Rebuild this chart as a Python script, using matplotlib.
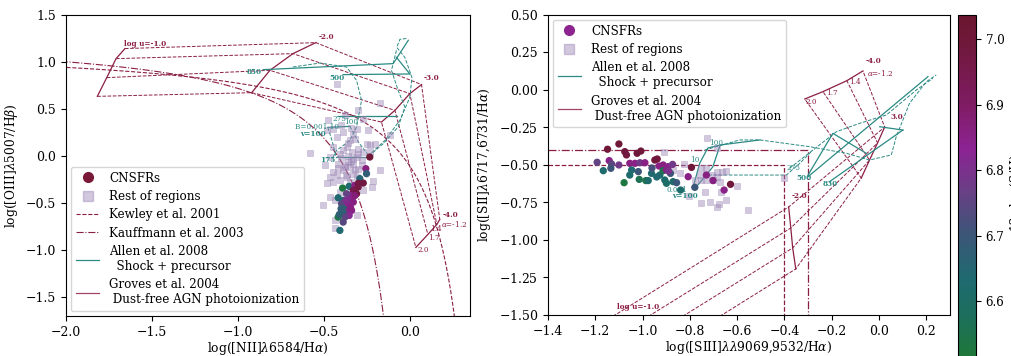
import numpy as np
import matplotlib
matplotlib.use("Agg")
import matplotlib.pyplot as plt
from matplotlib.colors import LinearSegmentedColormap, Normalize
from matplotlib.lines import Line2D

plt.rcParams['font.family'] = ['DejaVu Serif']
plt.rcParams['mathtext.fontset'] = 'dejavuserif'
plt.rcParams['font.size'] = 9

# ---------------- data ----------------
# left panel: CNSFRs (x=log NII/Ha, y=log OIII/Hb, 12+log(S/H))
cn_L_x = [-0.233, -0.256, -0.252, -0.291, -0.271, -0.391, -0.353, -0.320, -0.301, -0.329,
          -0.349, -0.368, -0.310, -0.339, -0.359, -0.388, -0.417, -0.397, -0.329, -0.349,
          -0.378, -0.368, -0.339, -0.388, -0.353, -0.378, -0.417, -0.388, -0.407, -0.300,
          -0.320, -0.360, -0.345, -0.400, -0.410, -0.370]
cn_L_y = [-0.010, -0.134, -0.187, -0.240, -0.287, -0.340, -0.322, -0.312, -0.330, -0.365,
          -0.418, -0.400, -0.400, -0.453, -0.471, -0.471, -0.443, -0.506, -0.489, -0.524,
          -0.560, -0.596, -0.578, -0.596, -0.631, -0.649, -0.649, -0.702, -0.790, -0.290,
          -0.420, -0.500, -0.550, -0.560, -0.620, -0.470]
cn_L_sh = [7.00, 6.86, 6.68, 6.65, 6.98, 6.53, 6.63, 6.85, 6.97, 6.95,
           6.84, 6.76, 6.99, 6.83, 6.82, 6.66, 6.64, 6.74, 6.86, 6.84,
           6.65, 6.83, 6.85, 6.66, 6.82, 6.76, 6.55, 6.74, 6.64, 6.97,
           6.87, 6.84, 6.86, 6.68, 6.67, 6.81]

# left panel: rest of regions
rest_L_x = [-0.422, -0.174, -0.300, -0.271, -0.378, -0.475, -0.446, -0.484, -0.388, -0.310,
            -0.242, -0.233, -0.252, -0.203, -0.116, -0.320, -0.426, -0.349, -0.446, -0.368,
            -0.581, -0.271, -0.339, -0.407, -0.310, -0.465, -0.494, -0.417, -0.359, -0.329,
            -0.281, -0.174, -0.446, -0.388, -0.465, -0.426, -0.329, -0.300, -0.484, -0.446,
            -0.407, -0.213, -0.223, -0.407, -0.465, -0.436, -0.271, -0.504, -0.436, -0.436,
            -0.310, -0.349, -0.368, -0.310, -0.378, -0.233, -0.300, -0.329, -0.400, -0.360,
            -0.330, -0.300, -0.380, -0.350, -0.320, -0.420, -0.390, -0.360, -0.340, -0.400,
            -0.370, -0.340, -0.280]
rest_L_y = [0.770, 0.564, 0.486, 0.397, 0.433, 0.387, 0.291, 0.273, 0.255, 0.291,
            0.273, 0.113, 0.131, 0.131, 0.220, 0.184, 0.202, 0.167, 0.096, 0.096,
            0.032, 0.043, 0.043, 0.025, -0.011, -0.011, -0.099, -0.082, -0.064, -0.082,
            -0.046, -0.152, -0.170, -0.152, -0.223, -0.206, -0.188, -0.135, -0.287, -0.277,
            -0.259, -0.270, -0.330, -0.383, -0.436, -0.472, -0.365, -0.525, -0.684, -0.766,
            -0.631, -0.277, -0.223, -0.223, -0.117, 0.043, 0.078, 0.238, -0.020, 0.000,
            -0.030, 0.020, -0.100, -0.120, -0.150, -0.130, 0.060, 0.140, 0.300, 0.330,
            -0.200, -0.050, -0.100]

# right panel: CNSFRs (x=log SIII/Ha, y=log SII/Ha)
cn_R_x = [-1.100, -1.148, -1.075, -1.068, -1.023, -1.007, -1.192, -1.141, -1.131, -1.166,
          -1.134, -1.078, -1.054, -1.032, -1.011, -0.990, -1.046, -1.054, -1.018, -1.014,
          -0.986, -0.976, -0.962, -0.948, -0.938, -0.930, -0.913, -0.892, -0.873, -0.927,
          -0.906, -0.899, -0.871, -0.856, -0.839, -0.913, -0.899, -0.882, -0.793, -0.779,
          -0.730, -0.702, -0.655, -0.628, -0.807, -1.100, -0.960, -0.940, -0.890]
cn_R_y = [-0.360, -0.395, -0.411, -0.433, -0.422, -0.407, -0.482, -0.471, -0.493, -0.538,
          -0.522, -0.618, -0.489, -0.489, -0.485, -0.485, -0.533, -0.567, -0.544, -0.596,
          -0.604, -0.604, -0.556, -0.467, -0.460, -0.507, -0.500, -0.511, -0.496, -0.567,
          -0.600, -0.622, -0.611, -0.618, -0.667, -0.538, -0.533, -0.556, -0.516, -0.649,
          -0.567, -0.604, -0.667, -0.629, -0.578, -0.500, -0.520, -0.580, -0.540]
cn_R_sh = [7.00, 7.00, 6.99, 6.98, 6.99, 7.00, 6.76, 6.85, 6.75, 6.62,
           6.70, 6.53, 6.86, 6.85, 6.78, 6.85, 6.64, 6.62, 6.70, 6.56,
           6.55, 6.62, 6.64, 6.99, 6.99, 6.85, 6.86, 6.84, 6.78, 6.63,
           6.62, 6.61, 6.62, 6.70, 6.62, 6.55, 6.85, 6.70, 6.99, 6.70,
           6.86, 6.86, 6.85, 6.99, 6.85, 6.78, 6.72, 6.64, 6.80]

# right panel: rest of regions
rest_R_x = [-0.727, -0.685, -0.910, -0.824, -0.751, -0.730, -0.687, -0.666, -0.645, -0.779,
            -0.751, -0.730, -0.701, -0.673, -0.687, -0.804, -0.734, -0.751, -0.715, -0.677,
            -0.685, -0.645, -0.599, -0.554, -0.670, -0.403, -0.758, -0.708, -0.870, -0.842]
rest_R_y = [-0.322, -0.389, -0.416, -0.493, -0.522, -0.522, -0.544, -0.544, -0.538, -0.600,
            -0.600, -0.600, -0.600, -0.611, -0.578, -0.704, -0.682, -0.756, -0.744, -0.760,
            -0.782, -0.733, -0.638, -0.800, -0.678, -0.589, -0.567, -0.567, -0.533, -0.556]

# Groves et al. 2004 grids: rows = log U (-1,-2,-3,-4), columns = alpha (-1.2,-1.4,-1.7,-2.0)
groves_L_x = [[-1.657, -1.709, -1.763, -1.818],
              [-0.547, -0.680, -0.814, -0.920],
              [0.068, 0.000, -0.087, -0.165],
              [0.174, 0.157, 0.105, 0.035]]
groves_L_y = [[1.143, 1.036, 0.834, 0.635],
              [1.206, 1.089, 0.912, 0.674],
              [0.760, 0.664, 0.486, 0.362],
              [-0.673, -0.727, -0.833, -0.971]]
groves_R_x = [[-1.218, -1.068, -0.923, -0.766],
              [-0.382, -0.373, -0.365, -0.352],
              [0.024, -0.006, -0.040, -0.075],
              [-0.068, -0.136, -0.237, -0.314]]
groves_R_y = [[-1.600, -1.600, -1.600, -1.600],
              [-0.780, -0.920, -1.053, -1.193],
              [-0.247, -0.353, -0.467, -0.587],
              [0.127, 0.062, -0.011, -0.060]]

# Allen et al. 2008 shock + precursor tracks (solid: constant v, dashed: constant B)
allen_L_solid = [
    ([-0.477, -0.349], [0.305, 0.316]),
    ([-0.430, -0.233], [-0.010, -0.010]),
    ([-0.417, -0.077], [0.425, 0.425]),
    ([-0.388, 0.000], [0.866, 0.873]),
    ([-0.853, -0.097, -0.009], [0.919, 0.983, 1.231]),
    ([-0.078, 0.000], [1.050, 0.873]),
]
allen_L_dash = [
    ([-0.680, -0.523, -0.368, -0.310, -0.281, -0.310, -0.349, -0.426, -0.446],
     [0.947, 0.989, 0.947, 0.805, 0.593, 0.309, 0.166, 0.061, -0.011]),
    ([-0.244, -0.145, -0.058, 0.000, 0.012, -0.029, -0.076, -0.058, -0.012],
     [-0.003, 0.167, 0.380, 0.624, 0.837, 1.050, 1.156, 1.241, 1.252]),
    ([-0.078, -0.107, -0.068, -0.029, -0.068, -0.155, -0.242],
     [1.124, 0.911, 0.699, 0.521, 0.309, 0.131, -0.004]),
    ([-0.477, -0.450, -0.430], [0.305, 0.150, -0.010]),
    ([-0.349, -0.300, -0.233], [0.316, 0.150, -0.010]),
]
allen_R_solid = [
    ([-0.787, -0.758, -0.724, -0.673, -0.504], [-0.653, -0.487, -0.387, -0.367, -0.333]),
    ([-0.766, -0.703, -0.673], [-0.633, -0.513, -0.373]),
    ([-0.300, 0.207], [-0.578, 0.089]),
    ([-0.209, 0.101], [-0.611, -0.267]),
    ([-0.300, -0.195, -0.054], [-0.567, -0.289, -0.422]),
    ([0.003, 0.101], [-0.245, -0.267]),
]
allen_R_dash = [
    ([-0.737, -0.589, -0.504, -0.293, -0.138, -0.040, 0.052, 0.073, 0.129, 0.200, 0.242],
     [-0.400, -0.333, -0.333, -0.378, -0.422, -0.467, -0.433, -0.311, -0.089, 0.055, 0.100]),
    ([-0.744, -0.392, -0.335, -0.280], [-0.567, -0.567, -0.489, -0.400]),
    ([-0.378, -0.180, -0.082, 0.031, 0.158, 0.228], [-0.522, -0.278, -0.222, -0.167, 0.000, 0.078]),
]

# ---------------- style ----------------
maroon = '#8b1e45'
teal = '#2a8a84'
sq_col = '#9a85b5'
cmap = LinearSegmentedColormap.from_list('sh', [
    (0.00, '#1f7a30'), (0.15, '#1d6e5e'), (0.25, '#1f6a70'), (0.38, '#3d5578'),
    (0.50, '#6a3f85'), (0.62, '#8c2393'), (0.75, '#7e1c62'), (0.93, '#6f1838'),
    (1.00, '#6a1730')])
norm = Normalize(vmin=6.5, vmax=7.037)

fig = plt.figure(figsize=(10.11, 3.56), dpi=100)
axL = fig.add_axes([0.0653, 0.1124, 0.3996, 0.8455])
axR = fig.add_axes([0.542, 0.1152, 0.3976, 0.8427])
cax = fig.add_axes([0.9476, -0.0295, 0.0178, 0.9874])

# ---------------- left panel ----------------
xk = np.linspace(-2.1, 0.40, 400)
axL.plot(xk, 0.61 / (xk - 0.47) + 1.19, ls='--', color=maroon, lw=0.8)
xa = np.linspace(-2.1, 0.0, 400)
axL.plot(xa, 0.61 / (xa - 0.05) + 1.3, ls='-.', color=maroon, lw=0.8)

gx, gy = np.array(groves_L_x), np.array(groves_L_y)
for i in range(4):
    axL.plot(gx[i], gy[i], '-', color=maroon, lw=0.9)
for j in range(4):
    axL.plot(gx[:, j], gy[:, j], '--', color=maroon, lw=0.7)
for xs, ys in allen_L_solid:
    axL.plot(xs, ys, '-', color=teal, lw=0.9)
for xs, ys in allen_L_dash:
    axL.plot(xs, ys, '--', color=teal, lw=0.7)

axL.scatter(rest_L_x, rest_L_y, marker='s', s=22, color=sq_col, alpha=0.45, lw=0.5, zorder=3)
axL.scatter(cn_L_x, cn_L_y, c=cn_L_sh, cmap=cmap, norm=norm, s=18, zorder=4)

fs = 5.2
for txt, x, y, w in [('log u=-1.0', -1.66, 1.19, 'bold'), ('-2.0', -0.53, 1.27, 'bold'),
                     ('-3.0', 0.08, 0.83, 'bold'), ('-4.0', 0.19, -0.63, 'bold'),
                     ('$\\alpha$=-1.2', 0.18, -0.72, 'normal'), ('1.4', 0.115, -0.77, 'normal'),
                     ('1.7', 0.105, -0.87, 'normal'), ('2.0', 0.045, -1.0, 'normal')]:
    axL.text(x, y, txt, color=maroon, fontsize=fs, fontweight=w, va='center', ha='left')
for txt, x, y, w in [('850', -0.95, 0.89, 'bold'), ('500', -0.47, 0.83, 'bold'),
                     ('275', -0.45, 0.39, 'normal'), ('100', -0.38, 0.36, 'normal'),
                     ('B=0.001 10', -0.67, 0.31, 'normal'), ('v=100', -0.64, 0.24, 'bold'),
                     ('175', -0.52, -0.04, 'bold')]:
    axL.text(x, y, txt, color=teal, fontsize=fs, fontweight=w, va='center', ha='left')

axL.set_xlim(-2.0, 0.35)
axL.set_ylim(-1.7, 1.5)
axL.set_xticks([-2.0, -1.5, -1.0, -0.5, 0.0])
axL.set_yticks([-1.5, -1.0, -0.5, 0.0, 0.5, 1.0, 1.5])
axL.set_xlabel('log([NII]$\\lambda$6584/H$\\alpha$)', fontsize=8.8, labelpad=1)
axL.set_ylabel('log([OIII]$\\lambda$5007/H$\\beta$)', fontsize=8.8)

hL = [Line2D([], [], ls='none', marker='o', color='#7a1838', ms=7),
      Line2D([], [], ls='none', marker='s', color=sq_col, alpha=0.45, ms=7),
      Line2D([], [], ls='--', color=maroon, lw=0.8),
      Line2D([], [], ls='-.', color=maroon, lw=0.8),
      Line2D([], [], ls='-', color=teal, lw=0.9),
      Line2D([], [], ls='-', color='#a0446a', lw=0.9)]
labL = ['CNSFRs', 'Rest of regions', 'Kewley et al. 2001', 'Kauffmann et al. 2003',
        'Allen et al. 2008\n  Shock + precursor', 'Groves et al. 2004\n Dust-free AGN photoionization']
axL.legend(hL, labL, loc='lower left', fontsize=8.6, borderaxespad=0.4, labelspacing=0.45)

# ---------------- right panel ----------------
axR.plot([-1.4, -0.3, -0.3], [-0.4, -0.4, -1.6], ls='-.', color=maroon, lw=0.9)
axR.plot([-1.4, -0.4, -0.4], [-0.5, -0.5, -1.6], ls='--', color=maroon, lw=0.9)

gx, gy = np.array(groves_R_x), np.array(groves_R_y)
for i in range(4):
    axR.plot(gx[i], gy[i], '-', color=maroon, lw=0.9)
for j in range(4):
    axR.plot(gx[:, j], gy[:, j], '--', color=maroon, lw=0.7)
for xs, ys in allen_R_solid:
    axR.plot(xs, ys, '-', color=teal, lw=0.9)
for xs, ys in allen_R_dash:
    axR.plot(xs, ys, '--', color=teal, lw=0.7)

axR.scatter(rest_R_x, rest_R_y, marker='s', s=22, color=sq_col, alpha=0.45, lw=0.5, zorder=3)
sc = axR.scatter(cn_R_x, cn_R_y, c=cn_R_sh, cmap=cmap, norm=norm, s=18, zorder=4)

for txt, x, y, w in [('log u=-1.0', -1.11, -1.45, 'bold'), ('-2.0', -0.37, -0.71, 'bold'),
                     ('3.0', 0.05, -0.18, 'bold'), ('-4.0', -0.055, 0.19, 'bold'),
                     ('$\\alpha$=-1.2', -0.05, 0.115, 'normal'), ('1.4', -0.125, 0.05, 'normal'),
                     ('1.7', -0.225, -0.02, 'normal'), ('2.0', -0.31, -0.08, 'normal')]:
    axR.text(x, y, txt, color=maroon, fontsize=fs, fontweight=w, va='center', ha='left')
for txt, x, y, w in [('100', -0.72, -0.355, 'normal'), ('10', -0.80, -0.465, 'normal'),
                     ('275', -0.39, -0.52, 'normal'), ('500', -0.35, -0.59, 'bold'),
                     ('830', -0.24, -0.63, 'bold'), ('0.001', -0.90, -0.665, 'normal'),
                     ('v=100', -0.875, -0.71, 'bold')]:
    axR.text(x, y, txt, color=teal, fontsize=fs, fontweight=w, va='center', ha='left')

axR.set_xlim(-1.4, 0.3)
axR.set_ylim(-1.5, 0.5)
axR.set_xticks(np.round(np.arange(-1.4, 0.21, 0.2), 1))
axR.set_yticks([-1.5, -1.25, -1.0, -0.75, -0.5, -0.25, 0.0, 0.25, 0.5])
axR.set_yticklabels(['$-$1.50', '$-$1.25', '$-$1.00', '$-$0.75', '$-$0.50', '$-$0.25', '0.00', '0.25', '0.50'])
axR.set_xlabel('log([SIII]$\\lambda\\lambda$9069,9532/H$\\alpha$)', fontsize=8.8, labelpad=1)
axR.set_ylabel('log([SII]$\\lambda$6717,6731/H$\\alpha$)', fontsize=8.8)

hR = [Line2D([], [], ls='none', marker='o', color='#8e2490', ms=7),
      Line2D([], [], ls='none', marker='s', color=sq_col, alpha=0.45, ms=7),
      Line2D([], [], ls='-', color=teal, lw=0.9),
      Line2D([], [], ls='-', color='#a0446a', lw=0.9)]
labR = ['CNSFRs', 'Rest of regions', 'Allen et al. 2008\n  Shock + precursor',
        'Groves et al. 2004\n Dust-free AGN photoionization']
axR.legend(hR, labR, loc='upper left', fontsize=8.6, borderaxespad=0.4, labelspacing=0.45)

cb = fig.colorbar(sc, cax=cax)
cb.set_ticks([6.6, 6.7, 6.8, 6.9, 7.0])
cb.ax.tick_params(labelsize=8.6)
cb.set_label('12+log(S/H)', fontsize=8.8, labelpad=3)

fig.savefig('out.png', dpi=100)
